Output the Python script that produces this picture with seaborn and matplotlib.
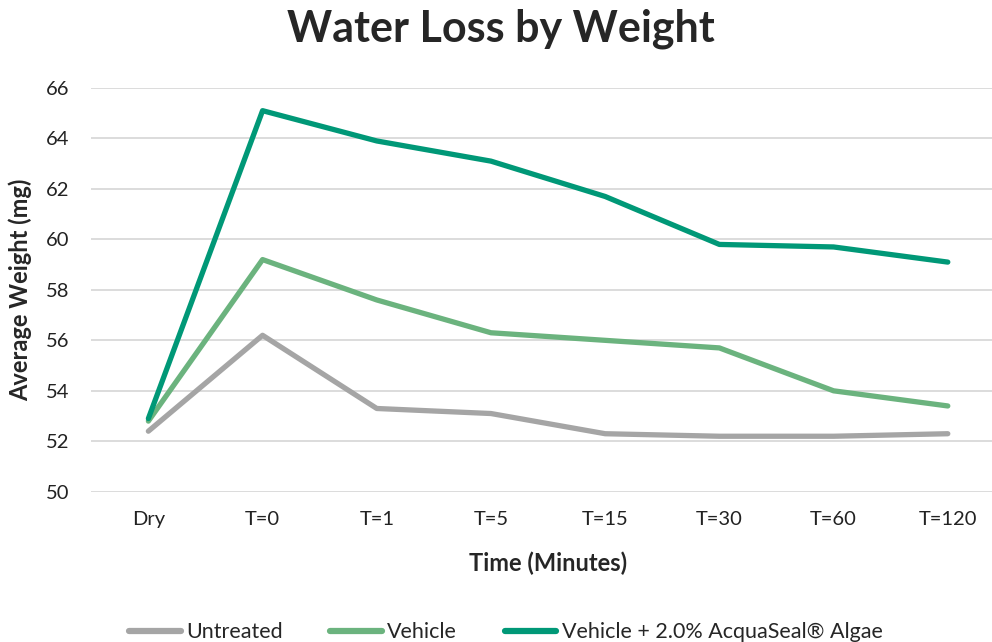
import matplotlib
matplotlib.use("Agg")
import matplotlib.pyplot as plt
import seaborn as sns
import pandas as pd
from matplotlib import font_manager

times = ["Dry", "T=0", "T=1", "T=5", "T=15", "T=30", "T=60", "T=120"]
untreated = [52.4, 56.2, 53.3, 53.1, 52.3, 52.2, 52.2, 52.3]
vehicle = [52.8, 59.2, 57.6, 56.3, 56.0, 55.7, 54.0, 53.4]
acquaseal = [52.9, 65.1, 63.9, 63.1, 61.7, 59.8, 59.7, 59.1]
series_names = ["Untreated", "Vehicle", "Vehicle + 2.0% AcquaSeal\u00ae Algae"]
colors = ["#A5A5A5", "#6BB37E", "#009877"]
yticks = [50, 52, 54, 56, 58, 60, 62, 64, 66]

rows = []
for name, vals in zip(series_names, [untreated, vehicle, acquaseal]):
    for i, (t, v) in enumerate(zip(times, vals)):
        rows.append({"Time": t, "idx": i, "Weight": v, "Series": name})
df = pd.DataFrame(rows)

sns.set_theme(style="white")
avail = {f.name for f in font_manager.fontManager.ttflist}
main_font = "Lato" if "Lato" in avail else "DejaVu Sans"
narrow = "Liberation Sans Narrow" if "Liberation Sans Narrow" in avail else main_font
plt.rcParams["font.family"] = [main_font, "DejaVu Sans"]

fig = plt.figure(figsize=(9.92, 6.42), dpi=100)
ax = fig.add_axes([0.092, 0.234, 0.921, 0.629])

sns.lineplot(data=df, x="idx", y="Weight", hue="Series", hue_order=series_names,
             palette=colors, linewidth=3.8, ax=ax, legend=False, sort=False)
for ln in ax.lines:
    ln.set_solid_capstyle("round")
    ln.set_solid_joinstyle("round")

ax.set_xlim(-0.5, len(times) - 0.5)
ax.set_ylim(50, 66)
ax.set_yticks(yticks)
ax.set_yticklabels([str(y) for y in yticks], fontsize=14.5, color="#222222")
ax.set_xticks(range(len(times)))
ax.set_xticklabels(times, fontsize=14.5, color="#222222")
ax.tick_params(axis="y", length=0, pad=16)
ax.tick_params(axis="x", length=0, pad=14)
ax.grid(axis="y", color="#D9D9D9", linewidth=1.3)
ax.set_axisbelow(True)
for s in ax.spines.values():
    s.set_visible(False)

ax.set_xlabel("Time (Minutes)", fontsize=17, fontweight="bold", labelpad=17)
ax.set_ylabel("Average Weight (mg)", fontsize=17, fontweight="bold", labelpad=10)
fig.text(0.505, 0.955, "Water Loss by Weight", ha="center", va="center",
         fontsize=31, fontweight="bold")

from matplotlib.lines import Line2D
handles = [Line2D([0], [0], color=c, linewidth=4.5, solid_capstyle="round") for c in colors]
leg = fig.legend(handles, series_names, loc="center", bbox_to_anchor=(0.51, 0.015),
                 ncol=3, frameon=False, handlelength=2.4, handletextpad=0.25,
                 columnspacing=2.2, prop={"family": [narrow, "DejaVu Sans"], "size": 15.5})

fig.savefig("out.png", dpi=100)
